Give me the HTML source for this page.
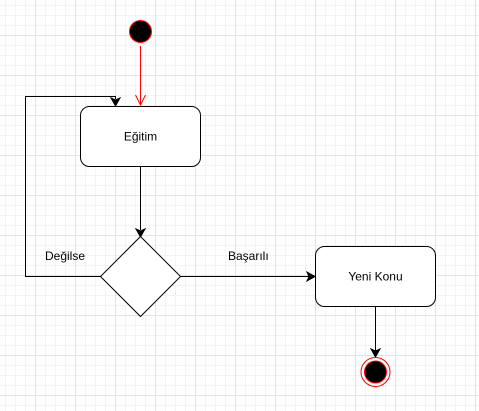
<!DOCTYPE html>
<html><head><meta charset="utf-8"><style>
html,body{margin:0;padding:0;}
body{width:479px;height:411px;overflow:hidden;background-color:#fff;
background-image:
linear-gradient(to right,#e2e2e2 1px,transparent 1px),
linear-gradient(to bottom,#e2e2e2 1px,transparent 1px),
linear-gradient(to right,#f3f3f3 1px,transparent 1px),
linear-gradient(to bottom,#f3f3f3 1px,transparent 1px);
background-size:40px 40px,40px 40px,10px 10px,10px 10px;
background-position:35px 35px,35px 35px,5px 5px,5px 5px;}
svg{position:absolute;left:0;top:0;}
text{font-family:"Liberation Sans",sans-serif;font-size:12px;fill:#000;}
</style></head><body>
<svg width="479" height="411" viewBox="0 0 479 411">
<circle cx="140.5" cy="31.5" r="11" fill="#000" stroke="#f00" stroke-width="1"/>
<line x1="140.5" y1="46" x2="140.5" y2="105" stroke="#f00" stroke-width="1"/>
<polyline points="135.5,95 140.5,105 145.5,95" fill="none" stroke="#f00" stroke-width="1"/>
<rect x="80.5" y="106.5" width="120" height="60" rx="9" fill="#fff" stroke="#000"/>
<text x="140.5" y="140.5" text-anchor="middle">Eğitim</text>
<line x1="140.5" y1="166.5" x2="140.5" y2="230" stroke="#000"/>
<polygon points="136,229 140.5,237 145,229 140.5,231" fill="#000" stroke="#000"/>
<polygon points="140.5,236.5 180.5,276.5 140.5,316.5 100.5,276.5" fill="#fff" stroke="#000"/>
<polyline points="100.5,276.5 25.5,276.5 25.5,96.5 115.5,96.5 115.5,99" fill="none" stroke="#000"/>
<polygon points="111,98 115.5,106 120,98 115.5,100" fill="#000" stroke="#000"/>
<text x="45" y="260">Değilse</text>
<line x1="180.5" y1="276.5" x2="309" y2="276.5" stroke="#000"/>
<polygon points="307,272 315,276.5 307,281 309,276.5" fill="#000" stroke="#000"/>
<text x="228" y="260">Başarılı</text>
<rect x="315.5" y="246.5" width="120" height="60" rx="9" fill="#fff" stroke="#000"/>
<text x="375.5" y="280.5" text-anchor="middle">Yeni Konu</text>
<line x1="375.5" y1="306.5" x2="375.5" y2="351" stroke="#000"/>
<polygon points="371,349 375.5,357 380,349 375.5,351" fill="#000" stroke="#000"/>
<circle cx="375.5" cy="372" r="14.5" fill="#fff" stroke="#f00" stroke-width="1"/>
<circle cx="375.5" cy="372" r="11" fill="#000" stroke="#f00" stroke-width="1"/>
</svg>
</body></html>
